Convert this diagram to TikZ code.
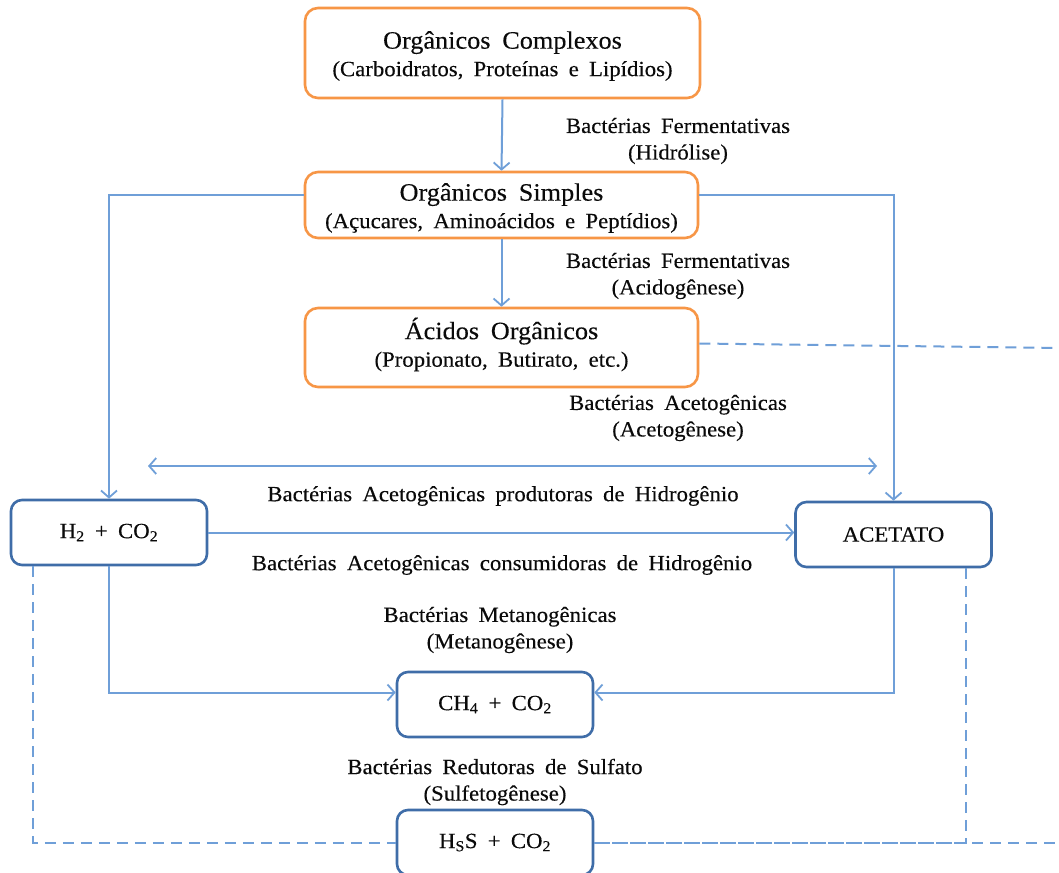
\documentclass[tikz,border=0pt]{standalone}
\usepackage{fontspec}
\setmainfont{Liberation Serif}[FakeStretch=1.05, WordSpace=1.8, FakeBold=0.25]
\usetikzlibrary{arrows.meta,calc}
\definecolor{orangeb}{HTML}{F79646}
\definecolor{blueb}{HTML}{3F6DA8}
\definecolor{bluel}{HTML}{6F9FD8}
\definecolor{txt}{HTML}{0A0A0A}
\tikzset{
  obox/.style={draw=orangeb, line width=2.6pt, rounded corners=13pt, fill=white, align=center, text=txt, inner sep=0pt},
  bbox/.style={draw=blueb, line width=2.6pt, rounded corners=11pt, fill=white, align=center, text=txt, inner sep=0pt, minimum width=196pt, minimum height=65pt, font=\fontsize{21.7}{26}\selectfont},
  arr/.style={draw=bluel, line width=2pt, -{Straight Barb[length=7pt,width=16pt,line width=1.8pt]}},
  dbl/.style={draw=bluel, line width=2pt, {Straight Barb[length=7pt,width=16pt,line width=1.8pt]}-{Straight Barb[length=7pt,width=16pt,line width=1.8pt]}},
  ln/.style={draw=bluel, line width=2pt},
  dsh/.style={draw=bluel, line width=2pt, dash pattern=on 11pt off 7pt},
  lbl/.style={align=center, text=txt, font=\fontsize{21.7}{26.5}\selectfont, inner sep=0pt},
  btxt/.style={align=center, text=txt, inner sep=0pt, font=\fontsize{21.7}{27.5}\selectfont}
}
\newcommand{\ttlf}{\fontsize{25}{27.5}\selectfont}
\newcommand{\subf}{\fontsize{21.7}{27.5}\selectfont}
\begin{document}
\begin{tikzpicture}[x=1pt,y=-1pt]
\path[use as bounding box] (0,0) rectangle (1059,872);
\clip (0,0) rectangle (1059,872);
\fill[white] (0,0) rectangle (1059,872);

\node[obox, minimum width=395pt, minimum height=90pt] (comp) at (502.5,53) {};
\node[obox, minimum width=393pt, minimum height=66pt] (simp) at (501.5,205) {};
\node[obox, minimum width=393pt, minimum height=79pt] (acid) at (501.5,347.5) {};
\node[bbox] (h2) at (109,532.5) {H\textsubscript{2} + CO\textsubscript{2}};
\node[bbox] (acet) at (893.5,534.5) {ACETATO};
\node[bbox] (ch4) at (495,704.5) {CH\textsubscript{4} + CO\textsubscript{2}};
\node[bbox] (h2s) at (495,842.5) {H\textsubscript{S}S + CO\textsubscript{2}};

% box texts
\node[btxt] (tcomp) at ([yshift=-3pt]comp.center) {{\ttlf Orgânicos Complexos}\\{\subf (Carboidratos, Proteínas e Lipídios)}};
\node[btxt] (tsimp) at ([yshift=-3pt]simp.center) {{\ttlf Orgânicos Simples}\\{\subf (Açucares, Aminoácidos e Peptídios)}};
\node[btxt] (tacid) at ([yshift=3pt]acid.center) {{\ttlf Ácidos Orgânicos}\\{\subf (Propionato, Butirato, etc.)}};

% solid connectors
\draw[arr] (comp.south) -- (simp.north);
\draw[arr] (simp.south) -- (acid.north);
\draw[arr] ([yshift=10pt]simp.west) -| (h2.north);
\draw[arr] ([yshift=10pt]simp.east) -| (acet.north);
\coordinate (dl) at (148,466);
\coordinate (dr) at (877,466);
\draw[dbl] (dl) -- (dr);
\draw[arr] (h2.east) -- (h2.east -| acet.west);
\draw[arr] (h2.south) |- ([yshift=12pt]ch4.west);
\draw[arr] (acet.south) |- ([yshift=12pt]ch4.east);

% dashed connectors
\coordinate (er1) at (1062,348);
\draw[dsh] ([yshift=4pt]acid.east) -- (er1);
\draw[dsh] ([xshift=-76pt]h2.south) |- (h2s.west);
\coordinate (er2) at (1062,842.5);
\draw[dsh] ([xshift=72.5pt]acet.south) |- (h2s.east);
\draw[dsh] (h2s.east) -- (er2);
\draw[ln] ([yshift=10pt]simp.east -| acet.north) -- ([yshift=-60pt]simp.east -| acet.north);

% labels
\node[lbl] (l1) at (678,141) {Bactérias Fermentativas\\(Hidrólise)};
\node[lbl] (l2) at (678,276) {Bactérias Fermentativas\\(Acidogênese)};
\node[lbl] (l3) at (678,418) {Bactérias Acetogênicas\\(Acetogênese)};
\node[lbl] (l4) at (503,496) {Bactérias Acetogênicas produtoras de Hidrogênio};
\node[lbl] (l5) at (502,565) {Bactérias Acetogênicas consumidoras de Hidrogênio};
\node[lbl] (l6) at (500,630) {Bactérias Metanogênicas\\(Metanogênese)};
\node[lbl] (l7) at (495,782) {Bactérias Redutoras de Sulfato\\(Sulfetogênese)};
\end{tikzpicture}
\end{document}
